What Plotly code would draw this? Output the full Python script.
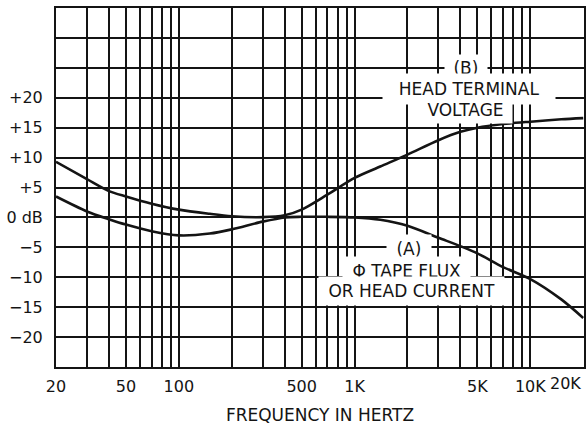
import numpy as np
import plotly.graph_objects as go

# Frequency response of a magnetic playback head
freq_hz = [20, 30, 40, 50, 70, 100, 150, 200, 300, 400, 500, 700,
           1000, 1400, 2000, 3000, 4000, 5000, 7000, 10000, 15000, 20000]

# (B) head terminal voltage, dB
head_voltage_db = [9.3, 6.4, 4.4, 3.5, 2.3, 1.3, 0.6, 0.2, 0.05, 0.35, 1.3, 3.8,
                   6.6, 8.5, 10.5, 12.9, 14.3, 15.0, 15.6, 16.0, 16.4, 16.6]

# (A) tape flux / head current, dB
tape_flux_db = [3.5, 1.0, -0.3, -1.2, -2.3, -3.0, -2.7, -2.0, -0.7, 0.0, 0.1, 0.1,
                0.0, -0.4, -1.4, -3.4, -4.8, -6.0, -8.3, -10.3, -13.7, -16.8]

# Grid positions and labels
x_grid = ([f for f in range(20, 100, 10)] + [f for f in range(100, 1000, 100)]
          + [f for f in range(1000, 10001, 1000)])
x_labels = {20: "20", 50: "50", 100: "100", 500: "500", 1000: "1K",
            5000: "5K", 10000: "10K"}
x_edge_label = (20000, "20K")

y_grid = list(range(-25, 36, 5))
y_labels = {20: "+20", 15: "+15", 10: "+10", 5: "+5", 0: "0 dB",
            -5: "\u22125", -10: "\u221210", -15: "\u221215", -20: "\u221220"}

FONT = "DejaVu Sans"
INK = "#141414"

fig = go.Figure()
for ys in (head_voltage_db, tape_flux_db):
    fig.add_trace(go.Scatter(
        x=freq_hz, y=ys, mode="lines",
        line=dict(color=INK, width=2.6, shape="spline", smoothing=0.8),
        hoverinfo="skip", showlegend=False))

fig.update_xaxes(
    type="log",
    range=[np.log10(20), np.log10(20200)],
    tickmode="array",
    tickvals=x_grid,
    ticktext=[x_labels.get(f, "") for f in x_grid],
    showgrid=True, gridcolor=INK, gridwidth=2,
    showline=True, linecolor=INK, linewidth=2, mirror=True,
    ticks="", ticklabelstandoff=4,
    tickfont=dict(family=FONT, size=16, color=INK),
    title=dict(text="FREQUENCY IN HERTZ", standoff=14,
               font=dict(family=FONT, size=17, color=INK)),
    zeroline=False,
)
fig.update_yaxes(
    range=[-25, 35],
    tickmode="array",
    tickvals=y_grid,
    ticktext=[y_labels.get(v, "") for v in y_grid],
    showgrid=True, gridcolor=INK, gridwidth=2,
    showline=True, linecolor=INK, linewidth=2, mirror=True,
    ticks="", ticklabelstandoff=8,
    tickfont=dict(family=FONT, size=16, color=INK),
    zeroline=False,
)

# label for the top-end frequency, kept inside the page edge
fig.add_annotation(x=np.log10(x_edge_label[0]), y=0, xref="x", yref="paper",
                   text=x_edge_label[1], showarrow=False, xanchor="right",
                   yanchor="top", yshift=-5,
                   font=dict(family=FONT, size=16, color=INK))

# Curve captions on white patches that break the grid
NB = "\u00a0"
captions = [
    ("(B)", 4300, 25.0, 3, 1),
    ("HEAD TERMINAL", 4450, 21.5, 5, 2),
    ("VOLTAGE", 4300, 18.0, 3, 1),
    ("(A)", 2030, -5.3, 4, 1),
    ("\u03a6 TAPE FLUX", 1980, -9.0, 4, 1),
    ("OR HEAD CURRENT", 2110, -12.3, 4, 1),
]
for text, fx, db, pad, wide in captions:
    fig.add_annotation(x=np.log10(fx), y=db, xref="x", yref="y",
                       text=NB * wide + text + NB * wide,
                       showarrow=False, bgcolor="white", borderpad=pad,
                       font=dict(family=FONT, size=17, color=INK))

fig.update_layout(
    width=586, height=426,
    margin=dict(l=56, r=0, t=8, b=59),
    paper_bgcolor="white", plot_bgcolor="white",
)

fig.write_html("out.html")
